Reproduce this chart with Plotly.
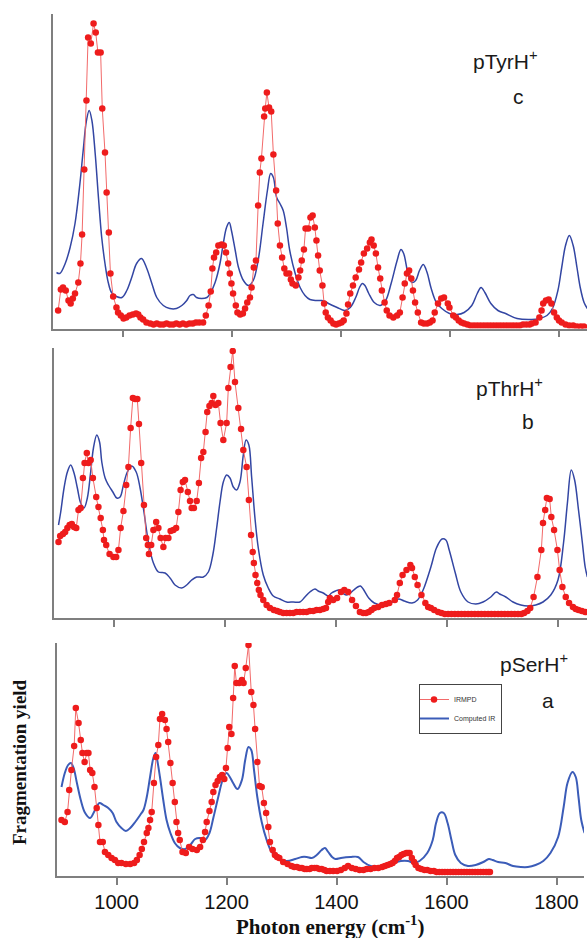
import plotly.graph_objects as go

# ---------------- data (cm-1, arbitrary yield units) ----------------
# Panel c : pTyrH+
tyr_irmpd_x = [881, 886, 890, 895, 900, 904, 908, 912, 918, 922, 925, 929, 933, 936, 941, 946, 950, 954, 959, 962,
               967, 970, 974, 977, 982, 988, 991, 996, 1001, 1006, 1012, 1018, 1024, 1028, 1032, 1037, 1043, 1050,
               1056, 1062, 1068, 1074, 1080, 1086, 1092, 1098, 1104, 1110, 1116, 1122, 1128, 1134, 1140, 1147, 1152,
               1157, 1161, 1164, 1167, 1171, 1175, 1181, 1185, 1189, 1193, 1196, 1199, 1202, 1207, 1210, 1215, 1220,
               1224, 1228, 1233, 1236, 1240, 1244, 1248, 1251, 1254, 1259, 1261, 1264, 1268, 1272, 1276, 1281, 1284,
               1288, 1292, 1296, 1300, 1305, 1308, 1311, 1317, 1322, 1325, 1328, 1332, 1335, 1340, 1344, 1348, 1352,
               1355, 1358, 1361, 1366, 1369, 1372, 1376, 1381, 1386, 1391, 1396, 1401, 1405, 1410, 1413, 1417, 1422,
               1427, 1433, 1437, 1442, 1448, 1453, 1456, 1460, 1464, 1468, 1472, 1475, 1480, 1484, 1489, 1496, 1503,
               1508, 1513, 1517, 1521, 1525, 1529, 1532, 1536, 1541, 1547, 1552, 1558, 1563, 1568, 1572, 1578, 1584,
               1589, 1596, 1599, 1606, 1611, 1616, 1621, 1626, 1632, 1638, 1644, 1650, 1656, 1662, 1668, 1674, 1680,
               1686, 1692, 1698, 1704, 1710, 1716, 1722, 1728, 1734, 1740, 1746, 1750, 1757, 1764, 1768, 1771, 1776,
               1781, 1786, 1791, 1796, 1800, 1805, 1812, 1819, 1826, 1833, 1840, 1846]
tyr_irmpd_y = [18, 39, 41, 38, 28, 25, 30, 35, 46, 65, 94, 159, 228, 291, 285, 305, 296, 276, 276, 220,
               176, 136, 96, 55, 32, 21, 16, 13, 10, 11, 13, 14, 15, 14, 11, 9, 6, 5,
               4, 5, 4, 4, 5, 4, 4, 5, 4, 5, 4, 5, 5, 6, 6, 6, 13,
               23, 37, 60, 71, 76, 83, 84, 83, 76, 65, 55, 45, 35, 23, 16, 14, 15,
               20, 26, 31, 41, 61, 68, 123, 156, 170, 212, 220, 236, 221, 217, 174, 138, 105,
               83, 71, 60, 55, 55, 49, 45, 43, 51, 58, 68, 79, 100, 100, 111, 113, 101,
               88, 73, 58, 43, 25, 16, 11, 8, 5, 4, 5, 6, 8, 15, 24, 35, 43,
               51, 59, 66, 75, 80, 86, 89, 83, 75, 61, 50, 38, 26, 18, 13, 11, 13,
               16, 31, 45, 55, 58, 50, 38, 26, 16, 6, 5, 5, 6, 8, 16, 25, 30,
               31, 25, 21, 13, 11, 8, 6, 5, 4, 3, 3, 3, 3, 3, 3, 3, 3,
               3, 3, 3, 3, 3, 3, 3, 3, 4, 4, 4, 5, 6, 11, 18, 25, 28,
               29, 25, 16, 11, 8, 6, 4, 3, 3, 2, 2, 2]
tyr_calc_x = [878, 884, 894, 903, 912, 921, 927, 933, 938, 943, 949, 955, 961, 967, 973, 979, 988, 998, 1007, 1016,
              1025, 1034, 1043, 1053, 1062, 1074, 1086, 1098, 1108, 1117, 1123, 1129, 1135, 1144, 1154, 1160, 1169,
              1178, 1184, 1190, 1195, 1199, 1206, 1212, 1221, 1230, 1239, 1248, 1257, 1265, 1271, 1276, 1282, 1288,
              1294, 1300, 1306, 1316, 1325, 1334, 1343, 1355, 1365, 1371, 1377, 1393, 1407, 1417, 1427, 1434, 1439,
              1444, 1451, 1461, 1472, 1482, 1492, 1503, 1510, 1515, 1523, 1530, 1537, 1544, 1551, 1558, 1565, 1575,
              1585, 1599, 1613, 1626, 1640, 1650, 1657, 1664, 1675, 1688, 1702, 1723, 1750, 1764, 1778, 1788, 1798,
              1805, 1812, 1819, 1826, 1833, 1839, 1846, 1852]
tyr_calc_y = [56, 55, 65, 81, 105, 145, 178, 208, 218, 208, 175, 131, 91, 65, 46, 36, 32, 31, 38, 51,
              65, 70, 61, 45, 31, 23, 20, 20, 23, 28, 33, 34, 31, 30, 31, 35, 46,
              65, 85, 101, 106, 98, 78, 61, 48, 43, 48, 68, 105, 138, 155, 151, 131, 125,
              118, 101, 78, 55, 41, 33, 29, 28, 28, 27, 25, 21, 18, 21, 31, 41, 45,
              43, 35, 26, 23, 28, 45, 68, 79, 75, 55, 46, 48, 58, 64, 56, 41, 26,
              20, 15, 14, 16, 23, 35, 41, 36, 25, 18, 15, 10, 9, 10, 13, 20, 38,
              61, 83, 93, 83, 61, 41, 26, 20]

# Panel b : pThrH+
thr_irmpd_x = [900, 903, 908, 912, 916, 920, 924, 928, 932, 936, 940, 944, 947, 951, 954, 958, 962, 968, 972, 976,
               980, 982, 986, 992, 999, 1004, 1008, 1012, 1017, 1022, 1026, 1030, 1034, 1038, 1042, 1045, 1049, 1054,
               1058, 1061, 1063, 1067, 1071, 1076, 1080, 1084, 1089, 1093, 1098, 1102, 1107, 1112, 1116, 1120, 1124,
               1128, 1133, 1137, 1140, 1144, 1149, 1153, 1157, 1161, 1165, 1168, 1172, 1176, 1179, 1183, 1188, 1192,
               1197, 1203, 1206, 1210, 1214, 1218, 1224, 1229, 1233, 1239, 1243, 1247, 1250, 1252, 1255, 1258, 1261,
               1264, 1269, 1275, 1281, 1288, 1294, 1299, 1305, 1311, 1317, 1323, 1329, 1335, 1341, 1347, 1353, 1359,
               1365, 1371, 1377, 1382, 1386, 1389, 1395, 1402, 1409, 1415, 1422, 1429, 1436, 1443, 1449, 1454, 1459,
               1464, 1469, 1476, 1483, 1490, 1496, 1506, 1510, 1515, 1520, 1527, 1534, 1537, 1542, 1547, 1554, 1561,
               1566, 1571, 1577, 1584, 1590, 1596, 1602, 1608, 1614, 1620, 1626, 1632, 1638, 1644, 1650, 1656, 1662,
               1668, 1674, 1680, 1686, 1692, 1698, 1704, 1710, 1716, 1722, 1728, 1734, 1739, 1745, 1750, 1756, 1763,
               1770, 1773, 1777, 1780, 1785, 1788, 1793, 1799, 1803, 1808, 1814, 1820, 1827, 1832, 1837, 1843, 1849]
thr_irmpd_y = [76, 82, 84, 86, 90, 93, 94, 91, 90, 108, 110, 140, 155, 165, 155, 158, 140, 121, 111, 100,
               88, 78, 73, 64, 61, 61, 68, 90, 107, 133, 151, 190, 220, 219, 219, 194, 155, 113,
               80, 73, 64, 73, 88, 96, 90, 80, 71, 80, 80, 87, 88, 90, 106, 128, 136,
               138, 126, 117, 110, 110, 117, 135, 160, 166, 186, 206, 212, 215, 222, 213, 215, 195,
               178, 195, 230, 251, 267, 236, 210, 189, 168, 151, 118, 83, 66, 55, 43, 35, 28,
               23, 18, 13, 10, 8, 7, 6, 5, 5, 5, 5, 6, 6, 6, 6, 7, 7,
               8, 8, 9, 10, 16, 20, 18, 20, 26, 28, 26, 18, 12, 6, 5, 5, 6,
               8, 10, 11, 13, 14, 15, 18, 23, 35, 43, 48, 53, 50, 41, 33, 23, 15,
               11, 10, 8, 6, 5, 4, 4, 4, 4, 4, 4, 4, 4, 4, 4, 4, 4,
               4, 4, 4, 4, 4, 4, 4, 4, 4, 4, 4, 4, 5, 7, 10, 21, 41,
               68, 95, 108, 120, 119, 101, 88, 68, 48, 31, 21, 15, 11, 9, 8, 7, 6]
thr_calc_x = [900, 904, 910, 916, 922, 928, 934, 940, 946, 952, 958, 963, 969, 974, 978, 984, 990, 998, 1005, 1011,
              1017, 1024, 1032, 1040, 1047, 1054, 1062, 1071, 1080, 1092, 1101, 1110, 1122, 1131, 1140, 1149, 1161,
              1170, 1178, 1185, 1191, 1197, 1203, 1209, 1215, 1221, 1227, 1233, 1238, 1243, 1248, 1254, 1260, 1269,
              1278, 1287, 1299, 1311, 1323, 1335, 1344, 1353, 1362, 1368, 1377, 1386, 1392, 1399, 1405, 1412, 1419,
              1426, 1432, 1439, 1444, 1449, 1459, 1469, 1483, 1496, 1506, 1513, 1523, 1537, 1547, 1557, 1571, 1581,
              1591, 1598, 1604, 1615, 1625, 1638, 1652, 1665, 1679, 1689, 1695, 1706, 1719, 1733, 1746, 1760, 1773,
              1787, 1800, 1810, 1817, 1824, 1830, 1837, 1844, 1849, 1853]
thr_calc_y = [93, 106, 130, 146, 153, 145, 130, 115, 110, 120, 146, 170, 183, 176, 156, 140, 133, 126, 120, 121,
              133, 146, 152, 146, 130, 106, 76, 55, 46, 45, 40, 33, 30, 33, 38, 41, 41,
              46, 63, 90, 116, 136, 143, 140, 131, 128, 136, 163, 178, 173, 141, 100, 70, 43,
              30, 22, 19, 16, 16, 16, 21, 26, 29, 27, 25, 22, 25, 27, 28, 25, 23,
              25, 28, 31, 32, 29, 20, 15, 13, 15, 17, 19, 17, 15, 18, 28, 51, 70,
              79, 78, 68, 45, 26, 16, 14, 16, 21, 26, 24, 21, 16, 13, 12, 13, 16,
              23, 38, 75, 115, 148, 138, 108, 75, 51, 41]

# Panel a : pSerH+
ser_irmpd_x = [900, 906, 911, 914, 918, 923, 926, 931, 935, 938, 942, 946, 949, 952, 956, 960, 964, 967, 970, 975,
               979, 985, 991, 997, 1003, 1009, 1017, 1025, 1032, 1037, 1042, 1046, 1050, 1055, 1058, 1061, 1064, 1068,
               1072, 1076, 1079, 1083, 1088, 1091, 1094, 1098, 1102, 1106, 1109, 1112, 1115, 1120, 1126, 1132, 1138,
               1146, 1152, 1157, 1161, 1164, 1169, 1173, 1176, 1180, 1184, 1188, 1192, 1196, 1199, 1202, 1205, 1209,
               1212, 1215, 1218, 1223, 1228, 1231, 1235, 1240, 1245, 1249, 1252, 1256, 1260, 1264, 1268, 1272, 1276,
               1279, 1284, 1288, 1292, 1296, 1303, 1311, 1318, 1323, 1328, 1333, 1337, 1342, 1346, 1351, 1355, 1360,
               1364, 1369, 1373, 1378, 1382, 1388, 1394, 1401, 1408, 1415, 1421, 1428, 1435, 1442, 1449, 1455, 1462,
               1469, 1476, 1483, 1488, 1493, 1498, 1502, 1506, 1510, 1514, 1518, 1522, 1527, 1530, 1533, 1537, 1541,
               1544, 1549, 1554, 1560, 1565, 1571, 1577, 1582, 1587, 1592, 1597, 1602, 1607, 1612, 1617, 1622, 1627,
               1632, 1637, 1642, 1647, 1652, 1657, 1662, 1667, 1672, 1676, 1679]
ser_irmpd_y = [56, 54, 64, 86, 106, 130, 168, 153, 136, 123, 114, 123, 123, 106, 103, 89, 68, 51, 34, 34,
               24, 21, 18, 16, 13, 13, 12, 12, 13, 16, 21, 27, 34, 43, 48, 56, 64, 93,
               119, 131, 157, 162, 156, 147, 134, 113, 93, 74, 54, 43, 36, 24, 23, 29, 27,
               26, 29, 36, 44, 54, 65, 74, 84, 91, 95, 99, 101, 97, 108, 128, 149, 142,
               178, 210, 193, 193, 196, 193, 208, 231, 184, 171, 147, 114, 90, 89, 73, 63, 49,
               34, 26, 21, 19, 18, 14, 12, 10, 9, 9, 8, 8, 7, 7, 7, 8, 8,
               8, 7, 7, 6, 5, 5, 5, 5, 6, 8, 10, 8, 7, 6, 6, 7, 7,
               8, 8, 9, 10, 11, 12, 13, 15, 18, 19, 21, 22, 23, 23, 23, 18, 14,
               11, 8, 7, 6, 6, 5, 5, 4, 4, 4, 4, 4, 4, 4, 4, 4, 4,
               4, 4, 4, 4, 4, 4, 4, 4, 4, 4, 4]
ser_calc_x = [900, 906, 912, 917, 922, 928, 935, 943, 952, 961, 969, 976, 985, 993, 1000, 1009, 1017, 1025, 1034,
              1043, 1049, 1055, 1061, 1067, 1071, 1074, 1079, 1085, 1091, 1098, 1106, 1115, 1125, 1134, 1143, 1152,
              1161, 1169, 1176, 1185, 1193, 1200, 1206, 1212, 1220, 1228, 1234, 1240, 1245, 1250, 1256, 1264, 1273,
              1282, 1294, 1309, 1325, 1337, 1346, 1355, 1364, 1373, 1379, 1385, 1392, 1398, 1408, 1425, 1439, 1449,
              1462, 1476, 1490, 1503, 1517, 1530, 1541, 1551, 1565, 1575, 1581, 1588, 1595, 1602, 1609, 1616, 1626,
              1639, 1653, 1667, 1677, 1684, 1694, 1707, 1721, 1735, 1748, 1762, 1776, 1789, 1803, 1813, 1820, 1829,
              1835, 1840, 1845, 1851]
ser_calc_y = [89, 103, 111, 113, 108, 93, 76, 63, 58, 66, 73, 71, 68, 63, 54, 48, 45, 48, 54,
              61, 66, 79, 99, 118, 123, 116, 99, 76, 56, 43, 33, 28, 27, 31, 37, 38,
              36, 43, 58, 79, 96, 103, 99, 93, 87, 96, 116, 129, 126, 106, 79, 54, 36,
              24, 18, 15, 17, 19, 19, 18, 21, 26, 28, 24, 19, 17, 18, 19, 19, 14,
              10, 9, 11, 13, 15, 15, 13, 15, 23, 36, 53, 63, 63, 53, 36, 21, 13,
              10, 11, 14, 17, 16, 14, 13, 10, 9, 9, 11, 15, 23, 39, 69, 93, 104,
              99, 79, 56, 43]

tick_vals = [1000, 1200, 1400, 1600, 1800]
tick_text = ["1000", "1200", "1400", "1600", "1800"]
panel_names = ["pTyrH<sup>+</sup>", "pThrH<sup>+</sup>", "pSerH<sup>+</sup>"]
panel_letters = ["c", "b", "a"]
series_names = ["IRMPD", "Computed IR"]

# ---------------- figure ----------------
W, H = 587, 938
RED_M = "#ee1c1c"
RED_L = "#f26a6a"
BLUE_TOP = "#3346a3"
BLUE_BOT = "#3b5cb8"
AXC = "#7f7f7f"

fig = go.Figure()

panels = [
    (tyr_irmpd_x, tyr_irmpd_y, tyr_calc_x, tyr_calc_y, "x", "y", BLUE_TOP, 1.5, False),
    (thr_irmpd_x, thr_irmpd_y, thr_calc_x, thr_calc_y, "x2", "y2", BLUE_TOP, 1.5, False),
    (ser_irmpd_x, ser_irmpd_y, ser_calc_x, ser_calc_y, "x3", "y3", BLUE_BOT, 2.0, True),
]
for rx, ry, bx, by, xa, ya, bcol, bw, show in panels:
    fig.add_trace(go.Scatter(x=bx, y=by, xaxis=xa, yaxis=ya, mode="lines",
                             line=dict(color=bcol, width=bw, shape="spline", smoothing=1.0),
                             name=series_names[1], showlegend=False))
    fig.add_trace(go.Scatter(x=rx, y=ry, xaxis=xa, yaxis=ya, mode="lines+markers",
                             line=dict(color=RED_L, width=1),
                             marker=dict(color=RED_M, size=6.5, line=dict(width=0)),
                             name=series_names[0], showlegend=show, legendrank=1))
# legend entry for the computed spectrum (bottom panel style)
fig.add_trace(go.Scatter(x=[None], y=[None], xaxis="x3", yaxis="y3", mode="lines",
                         line=dict(color=BLUE_BOT, width=2), name=series_names[1],
                         showlegend=True, legendrank=2))


def px_dom_x(a, b):
    return [a / W, b / W]


def px_dom_y(top, bottom):
    return [1 - bottom / H, 1 - top / H]


xcommon = dict(showgrid=False, zeroline=False, showline=True, linecolor=AXC, linewidth=1.5,
               ticks="outside", ticklen=7, tickwidth=1.5, tickcolor=AXC,
               tickvals=tick_vals, ticktext=tick_text,
               tickfont=dict(family="Liberation Sans, Arial", size=20, color="#111"))
ycommon = dict(showgrid=False, zeroline=False, showline=True, linecolor=AXC, linewidth=1.5,
               ticks="", showticklabels=False)

fig.update_layout(
    width=W, height=H, margin=dict(l=0, r=0, t=0, b=0, pad=0),
    paper_bgcolor="white", plot_bgcolor="white",
    xaxis=dict(domain=px_dom_x(53, 587), range=[871.6, 1851.4], anchor="y", showticklabels=False, **xcommon),
    yaxis=dict(domain=px_dom_y(14, 328.5), range=[0, 314.5], anchor="x", **ycommon),
    xaxis2=dict(domain=px_dom_x(54, 587), range=[891.9, 1852.3], anchor="y2", showticklabels=False, **xcommon),
    yaxis2=dict(domain=px_dom_y(348, 618), range=[0, 270], anchor="x2", **ycommon),
    xaxis3=dict(domain=px_dom_x(57, 584), range=[891.8, 1850], anchor="y3", showticklabels=True, **xcommon),
    yaxis3=dict(domain=px_dom_y(643, 876), range=[0, 233], anchor="x3", **ycommon),
    legend=dict(x=419 / W, y=1 - 684 / H, xanchor="left", yanchor="top",
                bgcolor="white", bordercolor="#444", borderwidth=1,
                font=dict(family="Liberation Sans, Arial", size=7, color="#333"),
                itemwidth=30, tracegroupgap=0, traceorder="normal", indentation=-6),
    showlegend=True,
)

annots = []
name_pos = [(505, 60), (509, 387), (534, 663)]
letter_pos = [(518, 96), (528, 421), (548, 700)]
for nm, (x, y) in zip(panel_names, name_pos):
    annots.append(dict(x=x / W, y=1 - y / H, xref="paper", yref="paper", text=nm, showarrow=False,
                       xanchor="center", yanchor="middle",
                       font=dict(family="Liberation Sans, Arial", size=21, color="#1a1a1a")))
for lt, (x, y) in zip(panel_letters, letter_pos):
    annots.append(dict(x=x / W, y=1 - y / H, xref="paper", yref="paper", text=lt, showarrow=False,
                       xanchor="center", yanchor="middle",
                       font=dict(family="Liberation Sans, Arial", size=21, color="#1a1a1a")))
annots.append(dict(x=330 / W, y=1 - 925 / H, xref="paper", yref="paper",
                   text="<b>Photon energy (cm<sup>-1</sup>)</b>", showarrow=False,
                   xanchor="center", yanchor="middle",
                   font=dict(family="Liberation Serif, Times New Roman", size=21, color="#111")))
annots.append(dict(x=19 / W, y=1 - 762 / H, xref="paper", yref="paper",
                   text="<b>Fragmentation yield</b>", showarrow=False, textangle=-90,
                   xanchor="center", yanchor="middle",
                   font=dict(family="Liberation Serif, Times New Roman", size=19, color="#111")))
fig.update_layout(annotations=annots)

fig.write_html("out.html", config={"displayModeBar": False},
               post_script="document.body.style.margin='0';document.body.style.overflow='hidden';")
